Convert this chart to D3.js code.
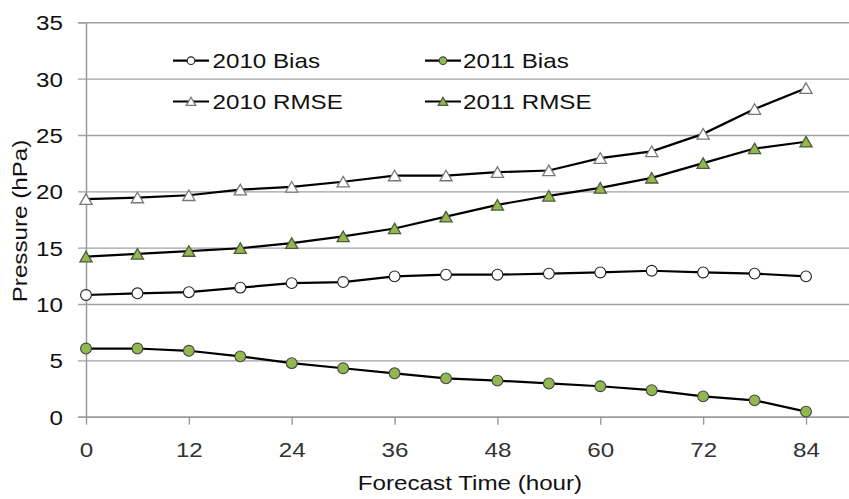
<!DOCTYPE html>
<html>
<head>
<meta charset="utf-8">
<script src="https://cdn.jsdelivr.net/npm/d3@7/dist/d3.min.js"></script>
<style>
  html, body { margin: 0; padding: 0; background: #fff; }
  svg { display: block; font-family: "Liberation Sans", Arial, sans-serif; }
</style>
</head>
<body>
<svg id="chart" width="849" height="499"></svg>
<script>
const hours = [0, 6, 12, 18, 24, 30, 36, 42, 48, 54, 60, 66, 72, 78, 84];
const bias2010 = [10.8, 10.95, 11.05, 11.45, 11.85, 11.95, 12.45, 12.6, 12.6, 12.7, 12.8, 12.95, 12.8, 12.7, 12.45];
const bias2011 = [6.05, 6.05, 5.85, 5.35, 4.75, 4.3, 3.85, 3.4, 3.2, 2.95, 2.7, 2.35, 1.8, 1.45, 0.45];
const rmse2010 = [19.3, 19.45, 19.65, 20.15, 20.4, 20.85, 21.4, 21.4, 21.7, 21.85, 22.95, 23.55, 25.1, 27.3, 29.15];
const rmse2011 = [14.2, 14.45, 14.7, 14.95, 15.4, 16.0, 16.7, 17.75, 18.8, 19.6, 20.3, 21.2, 22.5, 23.8, 24.4];
const xTicks = [0, 12, 24, 36, 48, 60, 72, 84];
const yTicks = [0, 5, 10, 15, 20, 25, 30, 35];
const seriesNames = ["2010 Bias", "2011 Bias", "2010 RMSE", "2011 RMSE"];
const xTitle = "Forecast Time (hour)";
const yTitle = "Pressure (hPa)";

const GREEN = "#92B850";
const SX = 1.18; // horizontal text stretch of the reference rendering

const series = [
  { name: seriesNames[0], values: bias2010, shape: "circle", fill: "#fff", stroke: "#222" },
  { name: seriesNames[1], values: bias2011, shape: "circle", fill: GREEN, stroke: "#444" },
  { name: seriesNames[2], values: rmse2010, shape: "triangle", fill: "#fff", stroke: "#777" },
  { name: seriesNames[3], values: rmse2011, shape: "triangle", fill: GREEN, stroke: "#4f5a3a" }
];

const svg = d3.select("#chart");
const pLeft = 86, pRight = 849, pTop = 22.3, pBottom = 416.7;

const x = d3.scaleLinear().domain([0, 89]).range([pLeft, pLeft + 89 * (720 / 84)]);
const y = d3.scaleLinear().domain([0, 35]).range([pBottom, pTop]);

// Y axis with gridlines
const yAxis = svg.append("g")
  .attr("transform", `translate(${pLeft},0)`)
  .call(d3.axisLeft(y).tickValues(yTicks).tickSize(8).tickPadding(0));
yAxis.select(".domain").attr("stroke", "#999").attr("stroke-width", 1.5);
yAxis.selectAll(".tick line")
  .attr("x1", pRight - pLeft).attr("x2", -8)
  .attr("stroke", "#a0a0a0").attr("stroke-width", 1.4);
yAxis.selectAll(".tick text")
  .attr("x", -23 / SX).attr("dy", "0.36em")
  .attr("transform", `scale(${SX},1)`)
  .attr("text-anchor", "end")
  .attr("fill", "#111")
  .style("font-size", "20.5px")
  .style("font-family", "'Liberation Sans', Arial, sans-serif");

// X axis
const xAxis = svg.append("g")
  .attr("transform", `translate(0,${pBottom})`)
  .call(d3.axisBottom(x).tickValues(xTicks).tickSize(8).tickSizeOuter(0));
xAxis.select(".domain").attr("stroke", "#999").attr("stroke-width", 1.5)
  .attr("d", `M${pLeft},0.5H${pRight}`);
xAxis.selectAll(".tick line").attr("stroke", "#999").attr("stroke-width", 1.4);
xAxis.selectAll(".tick text")
  .attr("y", 40).attr("dy", 0)
  .attr("transform", `scale(${SX},1)`)
  .attr("fill", "#333")
  .style("font-size", "20.5px")
  .style("font-family", "'Liberation Sans', Arial, sans-serif");

// Axis titles
svg.append("text")
  .attr("transform", `translate(470,490) scale(${SX},1)`)
  .attr("text-anchor", "middle")
  .attr("fill", "#111")
  .style("font-size", "20.5px")
  .text(xTitle);
svg.append("text")
  .attr("transform", `translate(27,221) rotate(-90) scale(${SX},1)`)
  .attr("text-anchor", "middle")
  .attr("fill", "#111")
  .style("font-size", "20.5px")
  .text(yTitle);

// Series
const line = d3.line().x((d, i) => x(hours[i])).y(d => y(d));
const tri = d3.symbol().type(d3.symbolTriangle);

function drawMarker(g, s, cx, cy, big) {
  if (s.shape === "circle") {
    g.append("circle").attr("cx", cx).attr("cy", cy).attr("r", big ? 5.4 : 3.8)
      .attr("fill", s.fill).attr("stroke", s.stroke).attr("stroke-width", 1.1);
  } else {
    g.append("path").attr("d", tri.size(big ? 64 : 38)())
      .attr("transform", `translate(${cx},${cy + (big ? 1.7 : 1.2)})`)
      .attr("fill", s.fill).attr("stroke", s.stroke).attr("stroke-width", 1.3);
  }
}

series.forEach(s => {
  const g = svg.append("g");
  g.append("path").attr("d", line(s.values))
    .attr("fill", "none").attr("stroke", "#000").attr("stroke-width", 2.2);
  s.values.forEach((v, i) => drawMarker(g, s, x(hours[i]), y(v), true));
});

// Legend
const legendPos = [
  { lx: 173, tx: 212.5, ly: 60.7 },
  { lx: 425, tx: 463, ly: 60.7 },
  { lx: 173, tx: 212.5, ly: 101.5 },
  { lx: 425, tx: 463, ly: 101.5 }
];
series.forEach((s, i) => {
  const p = legendPos[i];
  const g = svg.append("g");
  g.append("line").attr("x1", p.lx).attr("x2", p.lx + 36).attr("y1", p.ly).attr("y2", p.ly)
    .attr("stroke", "#000").attr("stroke-width", 2.2);
  drawMarker(g, s, p.lx + 18, p.ly, false);
  g.append("text")
    .attr("transform", `translate(${p.tx},${p.ly}) scale(${SX},1)`)
    .attr("dy", "0.36em")
    .attr("fill", "#111")
    .style("font-size", "20.5px")
    .text(s.name);
});
</script>
</body>
</html>
